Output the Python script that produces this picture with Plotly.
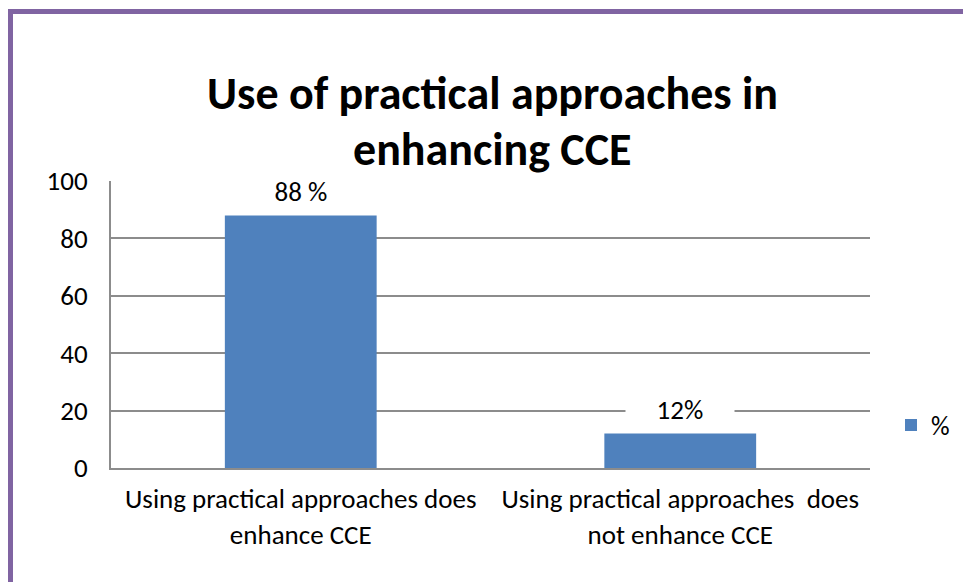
import plotly.graph_objects as go

categories = ["Using practical approaches does<br>enhance CCE",
              "Using practical approaches  does<br>not enhance CCE"]
values = [88, 12]
labels = ["88 %", "12%"]
series_name = "%"
title_lines = ["Use of practical approaches in", "enhancing CCE"]
y_ticks = [0, 20, 40, 60, 80, 100]

FONT = "Carlito, Lato, 'Liberation Sans', sans-serif"
W, H = 963, 582
L, R, T, B = 111, 93, 181, 114
pw, ph = W - L - R, H - T - B

def px_x(x):
    return (x - L) / pw

def px_y(y):
    return (H - B - y) / ph

fig = go.Figure()
fig.add_trace(go.Bar(x=categories, y=values, name=series_name,
                     marker=dict(color="#4F81BD", line=dict(width=0)),
                     width=0.4, showlegend=True))

pad = "&nbsp;" * 5
for c, v, t in zip(categories, values, labels):
    fig.add_annotation(x=c, y=v, text=pad + t + pad, showarrow=False,
                       yanchor="middle", yshift=24,
                       font=dict(family=FONT, size=27, color="black"),
                       bgcolor="white", borderpad=0)

for line, yc in zip(title_lines, [93, 149]):
    fig.add_annotation(xref="paper", yref="paper", x=px_x(492), y=px_y(yc),
                       text="<b>" + line + "</b>", showarrow=False,
                       font=dict(family=FONT, size=46, color="black"),
                       xanchor="center", yanchor="middle")

# chart border
fig.add_shape(type="rect", xref="paper", yref="paper",
              x0=px_x(10.5), x1=px_x(1200), y0=px_y(700), y1=px_y(11.5),
              line=dict(color="#8064A2", width=5), fillcolor="rgba(0,0,0,0)", layer="above")

fig.update_layout(
    width=W, height=H,
    margin=dict(l=L, r=R, t=T, b=B, autoexpand=False),
    paper_bgcolor="white", plot_bgcolor="white",
    bargap=0.6,
    font=dict(family=FONT, size=27, color="black"),
    legend=dict(x=px_x(891), y=px_y(425), xanchor="left", yanchor="middle",
                font=dict(family=FONT, size=26, color="black"),
                bgcolor="rgba(0,0,0,0)", itemwidth=30),
    xaxis=dict(showline=True, linecolor="#8C8C8C", linewidth=2,
               tickfont=dict(family=FONT, size=27, color="black"),
               ticks="", ticklabelstandoff=6),
    yaxis=dict(range=[0, 100], tickvals=y_ticks, showgrid=True,
               gridcolor="#8C8C8C", gridwidth=1.5, showline=True,
               linecolor="#8C8C8C", linewidth=2, zeroline=False,
               tickfont=dict(family=FONT, size=27, color="black"),
               ticks="", ticklabelstandoff=16),
)

fig.write_html("out.html")
